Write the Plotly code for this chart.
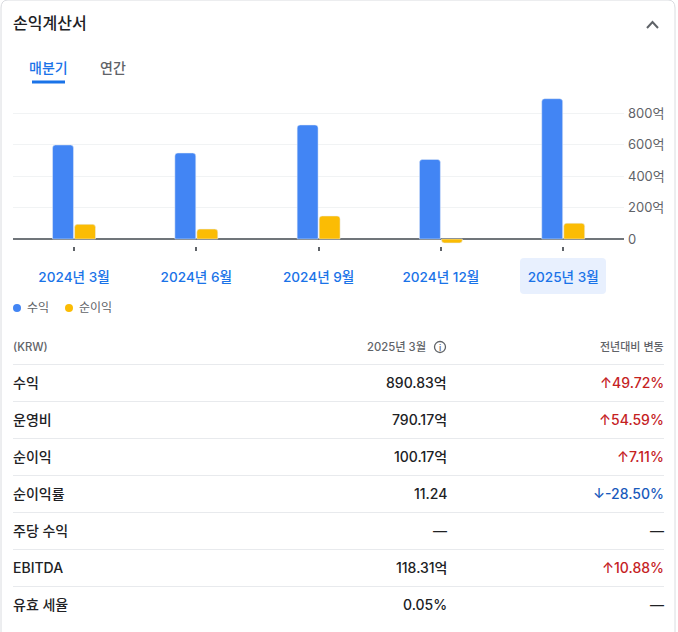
import plotly.graph_objects as go

W, H = 678, 632
FONT = "Inter, Noto Sans CJK KR"
BLUE = "#4285f4"
GOLD = "#fbbc04"
LINK = "#1a73e8"
GRAY = "#5f6368"
DARK = "#202124"
RED = "#c5221f"
DOWN = "#185abc"
LINE = "#e8eaed"

# chart values (억 KRW)
quarters = ["2024년 3월", "2024년 6월", "2024년 9월", "2024년 12월", "2025년 3월"]
revenue = [597, 546, 724, 505, 890.83]
net_income = [93, 63, 146, -25, 100.17]
y_ticks = [0, 200, 400, 600, 800]
y_labels = ["0", "200억", "400억", "600억", "800억"]

# table under the chart
row_names = ["수익", "운영비", "순이익", "순이익률", "주당 수익", "EBITDA", "유효 세율"]
row_values = ["890.83억", "790.17억", "100.17억", "11.24", "—", "118.31억", "0.05%"]
row_changes = ["↑49.72%", "↑54.59%", "↑7.11%", "↓-28.50%", "—", "↑10.88%", "—"]


def px(x):
    return x / W


def py(y):
    return 1 - y / H


def text(x, y, s, size=14, color=DARK, anchor="left", weight=400):
    fig.add_annotation(
        x=px(x), y=py(y), xref="paper", yref="paper", text=s, showarrow=False,
        xanchor=anchor, yanchor="middle", borderpad=0,
        font=dict(family=FONT, size=size, color=color, weight=weight),
    )


def shape_path(d, **kw):
    fig.add_shape(type="path", path=d, xref="paper", yref="paper", **kw)


fig = go.Figure()
fig.add_bar(x=quarters, y=revenue, name="수익", marker=dict(color=BLUE, cornerradius=3))
fig.add_bar(x=quarters, y=net_income, name="순이익", marker=dict(color=GOLD, cornerradius=3))

# pixel scale of the chart: zero at y=239, 800 at y=113
unit = (239 - 113) / 800
plot_top, plot_bottom = 90, 251

fig.update_layout(
    width=W, height=H, margin=dict(l=0, r=0, t=0, b=0),
    paper_bgcolor="white", plot_bgcolor="white", showlegend=False,
    barmode="group", bargap=0.64, bargroupgap=0.05,
    font=dict(family=FONT),
    xaxis=dict(
        domain=[px(13), px(624)], range=[-0.499, 4.497], type="category",
        ticks="inside", ticklen=4, tickwidth=2, tickcolor=GRAY, showgrid=False,
        showline=False, zeroline=False, ticklabelstandoff=16,
        tickfont=dict(family=FONT, size=13.6, color=LINK, weight=500),
    ),
    yaxis=dict(
        domain=[py(plot_bottom), py(plot_top)],
        range=[-(plot_bottom - 239) / unit, (239 - plot_top) / unit],
        side="right", tickvals=y_ticks, ticktext=y_labels, ticks="", showline=False,
        gridcolor="#f1f3f4", gridwidth=1, zeroline=True, zerolinecolor="#70757a",
        zerolinewidth=2, ticklabelstandoff=3,
        tickfont=dict(family=FONT, size=13, color=GRAY),
    ),
)

# card border
shape_path(
    f"M {px(1)},{py(632)} L {px(1)},{py(8)} Q {px(1)},{py(0)} {px(8)},{py(0)} "
    f"L {px(668)},{py(0)} Q {px(675)},{py(0)} {px(675)},{py(8)} L {px(675)},{py(632)}",
    line=dict(color="#dadce0", width=1),
)

# header, tabs, collapse arrow
text(12, 23, "손익계산서", size=16, weight=500)
text(28, 67.5, "매분기", size=14, color=LINK, weight=500)
text(99.5, 67.5, "연간", size=14, color=GRAY, weight=500)
fig.add_shape(type="line", xref="paper", yref="paper", x0=px(32), x1=px(65), y0=py(82), y1=py(82),
              line=dict(color=LINK, width=3))
shape_path(f"M {px(647)},{py(28)} L {px(652.5)},{py(22)} L {px(658)},{py(28)}",
           line=dict(color=GRAY, width=2))

# highlight behind the selected quarter
shape_path(
    f"M {px(524)},{py(258)} L {px(602)},{py(258)} Q {px(606)},{py(258)} {px(606)},{py(262)} "
    f"L {px(606)},{py(290)} Q {px(606)},{py(294)} {px(602)},{py(294)} L {px(524)},{py(294)} "
    f"Q {px(520)},{py(294)} {px(520)},{py(290)} L {px(520)},{py(262)} Q {px(520)},{py(258)} {px(524)},{py(258)} Z",
    fillcolor="#e8f0fe", line=dict(width=0), layer="below",
)

# legend
for cx, color, label in [(17, BLUE, "수익"), (69, GOLD, "순이익")]:
    fig.add_shape(type="circle", xref="paper", yref="paper", x0=px(cx - 4), x1=px(cx + 4),
                  y0=py(308 + 4), y1=py(308 - 4), fillcolor=color, line=dict(width=0))
    text(cx + 9, 308, label, size=12, color=GRAY)

# table header
text(12, 347, "(KRW)", size=11.3, color=GRAY, weight=500)
text(427, 347, "2025년 3월", size=11.3, color=GRAY, anchor="right", weight=500)
text(665, 347, "전년대비 변동", size=11, color=GRAY, anchor="right", weight=500)
fig.add_shape(type="circle", xref="paper", yref="paper", x0=px(434.5), x1=px(445.5),
              y0=py(352.5), y1=py(341.5), line=dict(color=GRAY, width=1.3))
text(440, 347, "i", size=9, color=GRAY, anchor="center", weight=500)

# table rows
for i, name in enumerate(row_names):
    rule = 364.5 + 37 * i
    mid = rule + 17.8
    fig.add_shape(type="line", xref="paper", yref="paper", x0=px(13), x1=px(664), y0=py(rule), y1=py(rule),
                  line=dict(color=LINE, width=1))
    change = row_changes[i]
    color = RED if change[0] == "↑" else DOWN if change[0] == "↓" else DARK
    text(12, mid, name, size=14, weight=500)
    text(448, mid, row_values[i], size=14, anchor="right", weight=500)
    text(665, mid, change, size=14, color=color, anchor="right", weight=500)

fig.write_html("out.html", config={"displayModeBar": False},
               post_script="document.body.style.margin='0';document.body.style.overflow='hidden';")
